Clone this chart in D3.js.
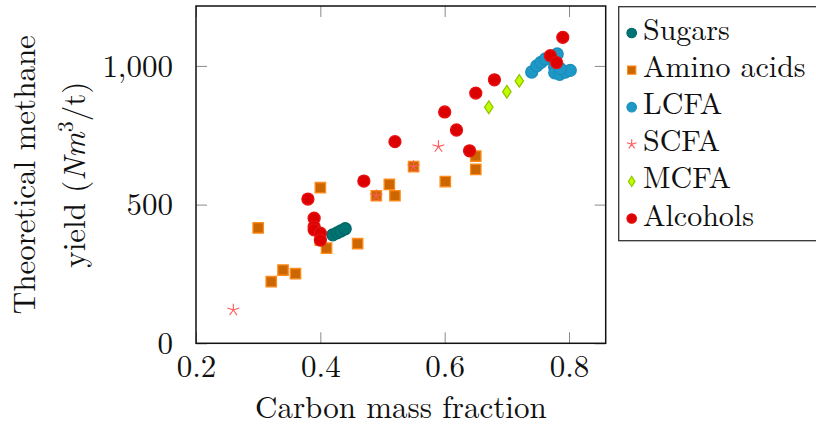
<!DOCTYPE html>
<html>
<head>
<meta charset="utf-8">
<script src="https://cdn.jsdelivr.net/npm/d3@7"></script>
</head>
<body style="margin:0;background:#fff">
<div id="chart"></div>
<script>
// [carbon mass fraction, methane yield]
const sugars = [[0.42,391],[0.427,398],[0.433,405],[0.44,413]]
const aminoAcids = [[0.30,416],[0.321,222],[0.34,264],[0.36,251],[0.40,561],[0.40,372],[0.41,343],
  [0.46,359],[0.49,532],[0.511,573],[0.52,532],[0.55,637],[0.601,583],[0.65,627],[0.65,675]]
const lcfa = [[0.74,978],[0.748,1000],[0.755,1013],[0.762,1025],[0.77,1032],[0.781,1043],[0.777,995],
  [0.777,975],[0.785,970],[0.794,978],[0.802,984],[0.786,990]]
const scfa = [[0.26,120],[0.49,532],[0.55,637],[0.59,709]]
const mcfa = [[0.671,851],[0.70,907],[0.72,946]]
const alcohols = [[0.38,520],[0.39,451],[0.39,420],[0.39,409],[0.40,397],[0.40,372],[0.47,585],[0.52,727],
  [0.60,834],[0.619,769],[0.64,694],[0.65,902],[0.68,950],[0.77,1037],[0.78,1012],[0.79,1103]]

const xTicks = [0.2,0.4,0.6,0.8]
const yTicks = [0,500,1000]
const xDomain = [0.2,0.859]
const yDomain = [0,1216]

const series = [
  {name:"Sugars", data:sugars, mark:"circle", fill:"#007373", stroke:"#006868"},
  {name:"Amino acids", data:aminoAcids, mark:"square", fill:"#cc6600", stroke:"#ff8c1a"},
  {name:"LCFA", data:lcfa, mark:"circle", fill:"#1e98c6", stroke:"#1b8fbb"},
  {name:"SCFA", data:scfa, mark:"star", fill:"none", stroke:"#ff5a5a"},
  {name:"MCFA", data:mcfa, mark:"diamond", fill:"#bfff00", stroke:"#93c400"},
  {name:"Alcohols", data:alcohols, mark:"circle", fill:"#dd0000", stroke:"#e81010"}
]

const FONT = '"Latin Modern Roman", "Liberation Serif", serif'

drawChart("#chart")

function drawChart(id){
  const canvas = createCanvas()
  const svg = addSvg(id,canvas)
  const sc = addScales(canvas)
  addAxes(svg,sc,canvas)
  series.forEach(s => addPoints(svg,sc,s))
  addFrame(svg,canvas)
  addLabels(svg,canvas)
  addLegends(svg)
}

function createCanvas(){
  return { width:816, height:425, margin:{top:6, right:210.3, bottom:81.7, left:196} }
}

function addSvg(id,canvas){
  return d3.select(id).append("svg").attr("width",canvas.width).attr("height",canvas.height)
}

function addScales(canvas){
  const xScale = d3.scaleLinear().domain(xDomain)
    .range([canvas.margin.left, canvas.width - canvas.margin.right])
  const yScale = d3.scaleLinear().domain(yDomain)
    .range([canvas.height - canvas.margin.bottom, canvas.margin.top])
  return {xScale,yScale}
}

function addAxes(svg,sc,canvas){
  const b = canvas.height - canvas.margin.bottom, t = canvas.margin.top
  const l = canvas.margin.left, r = canvas.width - canvas.margin.right

  const xb = svg.append("g").attr("transform",`translate(0,${b})`)
    .call(d3.axisBottom(sc.xScale).tickValues(xTicks).tickSize(-11).tickPadding(0).tickFormat(d3.format(".1f")))
  const xt = svg.append("g").attr("transform",`translate(0,${t})`)
    .call(d3.axisTop(sc.xScale).tickValues(xTicks).tickSize(-11).tickFormat(""))
  const yl = svg.append("g").attr("transform",`translate(${l},0)`)
    .call(d3.axisLeft(sc.yScale).tickValues(yTicks).tickSize(-11).tickPadding(23).tickFormat(d3.format(",")))
  const yr = svg.append("g").attr("transform",`translate(${r},0)`)
    .call(d3.axisRight(sc.yScale).tickValues(yTicks).tickSize(-11).tickFormat(""))

  ;[xb,xt,yl,yr].forEach(g => {
    g.select(".domain").remove()
    g.selectAll(".tick line").attr("stroke","#8a8a8a").attr("stroke-width",1)
    g.selectAll(".tick text").attr("font-size",null).attr("fill","#111")
      .style("font-family",FONT).style("font-size","31px")
  })
  xb.selectAll(".tick text").attr("y",33.5).attr("dy",null)
  yl.selectAll(".tick text").attr("dy","0.33em")
}

function starPath(r){
  let p = ""
  for(let i=0;i<5;i++){
    const a = -Math.PI/2 + i*2*Math.PI/5
    p += `M0,0L${(r*Math.cos(a)).toFixed(2)},${(r*Math.sin(a)).toFixed(2)}`
  }
  return p
}

function markPath(mark,size){
  if(mark === "circle") return d3.symbol(d3.symbolCircle, Math.PI*size*size)()
  if(mark === "square") return `M${-size},${-size}h${2*size}v${2*size}h${-2*size}Z`
  if(mark === "diamond") return `M0,${-size*1.05}L${size*0.7},0L0,${size*1.05}L${-size*0.7},0Z`
  return starPath(size*1.05)
}

function markSize(mark){
  if(mark === "square") return 5.2
  return 6
}

function addPoints(svg,sc,s){
  svg.append("g").selectAll("path").data(s.data).enter()
    .append("path")
    .attr("transform",d => `translate(${sc.xScale(d[0])},${sc.yScale(d[1])})`)
    .attr("d",markPath(s.mark,markSize(s.mark)))
    .attr("fill",s.fill).attr("stroke",s.stroke)
    .attr("stroke-width",s.mark === "star" ? 1.1 : 1.3)
}

function addFrame(svg,canvas){
  svg.append("rect").attr("x",canvas.margin.left).attr("y",canvas.margin.top)
    .attr("width",canvas.width - canvas.margin.left - canvas.margin.right)
    .attr("height",canvas.height - canvas.margin.top - canvas.margin.bottom)
    .attr("fill","none").attr("stroke","#111").attr("stroke-width",1.5)
}

function addText(sel,size){
  return sel.append("text").attr("fill","#111").style("font-family",FONT).style("font-size",size || "31px")
}

function addLabels(svg,canvas){
  addText(svg).attr("x",(canvas.margin.left + canvas.width - canvas.margin.right)/2).attr("y",418)
    .attr("text-anchor","middle").text("Carbon mass fraction")

  const yc = (canvas.margin.top + canvas.height - canvas.margin.bottom)/2
  addText(svg).attr("transform",`translate(35,${yc}) rotate(-90)`)
    .attr("text-anchor","middle").text("Theoretical methane")

  const t2 = addText(svg).attr("transform",`translate(85,${yc}) rotate(-90)`)
    .attr("text-anchor","middle")
  t2.append("tspan").text("yield (")
  t2.append("tspan").style("font-style","italic").text("Nm")
  t2.append("tspan").style("font-size","22px").attr("dy","-12").text("3")
  t2.append("tspan").attr("dy","12").text("/t)")
}

function addLegends(svg){
  const lg = svg.append("g")
  lg.append("rect").attr("x",618.7).attr("y",6.7).attr("width",210).attr("height",234)
    .attr("fill","white").attr("stroke","#333").attr("stroke-width",1.3)

  series.forEach((s,i) => {
    const base = 40 + i*37.1
    lg.append("path").attr("transform",`translate(631.7,${base - 7})`)
      .attr("d",markPath(s.mark,markSize(s.mark)*0.8))
      .attr("fill",s.fill).attr("stroke",s.stroke).attr("stroke-width",1.1)
    addText(lg,"30px").attr("x",643).attr("y",base).text(s.name)
  })
}
</script>
</body>
</html>
